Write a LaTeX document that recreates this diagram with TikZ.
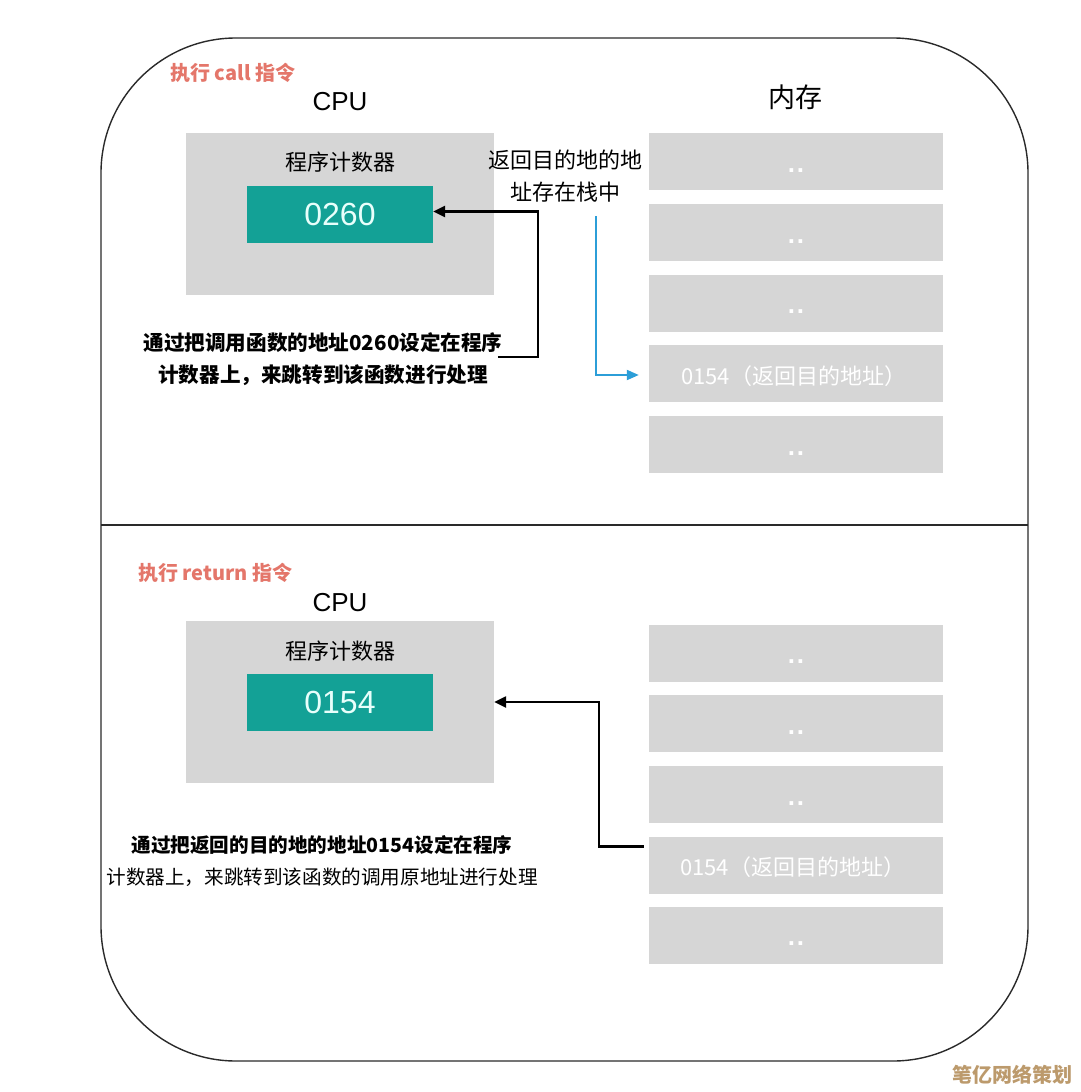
\documentclass[tikz,border=0pt]{standalone}
\usepackage{fontspec}
\setmainfont{Liberation Sans}
\newfontfamily\cjk{Noto Sans CJK SC}
\usetikzlibrary{arrows.meta}
\definecolor{pcteal}{HTML}{13A196}
\definecolor{boxgray}{HTML}{D6D6D6}
\definecolor{salmon}{HTML}{E4766A}
\definecolor{arrowblue}{HTML}{2C9ED8}
\definecolor{wmcolor}{HTML}{BC9A6C}
\definecolor{pctext}{HTML}{E8FFFB}
\definecolor{framecol}{HTML}{2A2A2A}
\begin{document}
\begin{tikzpicture}[x=1pt,y=-1pt,
  cpubox/.style={fill=boxgray, draw=none, minimum width=308pt, minimum height=162pt, inner sep=0pt},
  pcbox/.style={fill=pcteal, draw=none, minimum width=186pt, minimum height=57pt, inner sep=0pt, text=pctext, font=\fontsize{32}{36}\selectfont},
  membox/.style={fill=boxgray, draw=none, minimum width=294pt, minimum height=57pt, inner sep=0pt},
  dotstxt/.style={text=white, inner sep=0pt, font=\bfseries\fontsize{26}{30}\selectfont},
  memtxt/.style={text=white, inner sep=0pt, anchor=west, font=\cjk\fontsize{22}{26}\selectfont},
  titletxt/.style={inner sep=0pt, font=\fontsize{26}{30}\selectfont},
  regtxt/.style={inner sep=0pt, font=\cjk\fontsize{22}{26}\selectfont},
  redlabel/.style={inner sep=0pt, anchor=west, text=salmon, font=\cjk\bfseries\fontsize{20}{24}\selectfont},
  notetxt/.style={inner sep=0pt, align=center, font=\cjk\fontsize{21}{32}\selectfont},
  blackarr/.style={draw=black, line width=2.4pt, -{Triangle[length=12pt,width=11pt]}},
  bluearr/.style={draw=arrowblue, line width=2pt, -{Triangle[length=12pt,width=10pt]}},
]
\useasboundingbox (0,0) rectangle (1080,1092);
\fill[white] (0,0) rectangle (1080,1092);

% frame and divider
\draw[framecol, line width=1.4pt, rounded corners=135pt] (101,38) rectangle (1028,1061);
\draw[framecol, line width=1.4pt] (101,525) -- (1028,525);

% ---------- top half ----------
\node[redlabel] (lblcall) at (170,73) {执行 call 指令};
\node[titletxt] (cpu1) at (340,102) {CPU};
\node[titletxt, font=\cjk\fontsize{27}{30}\selectfont] (mem1) at (795,97) {内存};
\node[cpubox] (cpubox1) at (340,214) {};
\node[regtxt] (pclbl1) at (340,162) {程序计数器};
\node[pcbox] (pc1) at (340,214.5) {0260};

\node[membox] (ma1) at (796,161.5) {};
\node[membox] (ma2) at (796,232.5) {};
\node[membox] (ma3) at (796,303) {};
\node[membox] (ma4) at (796,373.5) {};
\node[membox] (ma5) at (796,444.5) {};
\node[dotstxt, yshift=-9pt] (da1) at (ma1.center) {.\hspace{2pt}.};
\node[dotstxt, yshift=-9pt] (da2) at (ma2.center) {.\hspace{2pt}.};
\node[dotstxt, yshift=-9pt] (da3) at (ma3.center) {.\hspace{2pt}.};
\node[dotstxt, yshift=-9pt] (da5) at (ma5.center) {.\hspace{2pt}.};
\node[memtxt] (ta4) at (681,376) {0154（返回目的地址）};

\node[regtxt, align=center, font=\cjk\fontsize{22}{32}\selectfont] (retlbl) at (565,176) {返回目的地的地\\址存在栈中};
\node[notetxt, font=\cjk\bfseries\fontsize{20.6}{32}\selectfont] (note1) at (323,359) {通过把调用函数的地址0260设定在程序\\计数器上，来跳转到该函数进行处理};

\coordinate (bstart) at (596,216);
\draw[bluearr] (bstart) |- ([xshift=-10pt,yshift=-1.5pt]ma4.west);
\draw[blackarr] ([xshift=-5pt,yshift=2pt]note1.east) -- ++(40,0) |- ([yshift=3pt]pc1.east);

% ---------- bottom half ----------
\node[redlabel] (lblret) at (138,573) {执行 return 指令};
\node[titletxt] (cpu2) at (340,603) {CPU};
\node[cpubox] (cpubox2) at (340,702) {};
\node[regtxt] (pclbl2) at (340,651) {程序计数器};
\node[pcbox] (pc2) at (340,702.5) {0154};

\node[membox] (mb1) at (796,653) {};
\node[membox] (mb2) at (796,723.5) {};
\node[membox] (mb3) at (796,794.5) {};
\node[membox] (mb4) at (796,865) {};
\node[membox] (mb5) at (796,935) {};
\node[dotstxt, yshift=-9pt] (db1) at (mb1.center) {.\hspace{2pt}.};
\node[dotstxt, yshift=-9pt] (db2) at (mb2.center) {.\hspace{2pt}.};
\node[dotstxt, yshift=-9pt] (db3) at (mb3.center) {.\hspace{2pt}.};
\node[dotstxt, yshift=-9pt] (db5) at (mb5.center) {.\hspace{2pt}.};
\node[memtxt] (tb4) at (680,867) {0154（返回目的地址）};

\node[notetxt, font=\cjk\fontsize{19.6}{32}\selectfont] (note2) at (322,861) {{\bfseries 通过把返回的目的地的地址0154设定在程序}\\计数器上，来跳转到该函数的调用原地址进行处理};

\draw[blackarr] ([xshift=-5pt,yshift=-10pt]mb4.north west) -- ++(-45,0) |- (cpubox2.east);

% watermark
\node[inner sep=0pt, text=wmcolor, font=\cjk\bfseries\fontsize{20}{24}\selectfont] (wm) at (1012,1075) {笔亿网络策划};
\end{tikzpicture}
\end{document}
